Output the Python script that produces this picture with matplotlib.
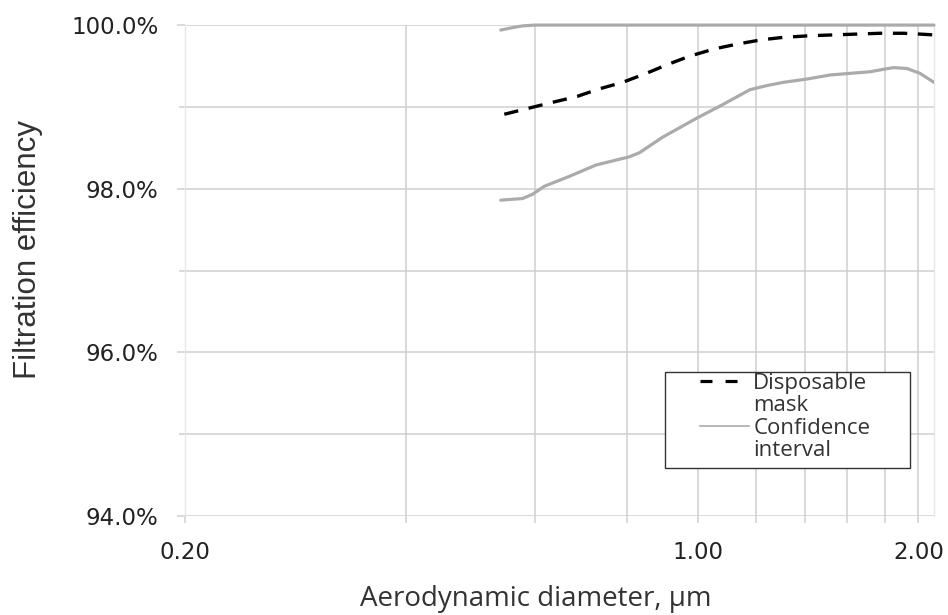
import matplotlib
matplotlib.use("AGG")
from matplotlib import pyplot as plt
from matplotlib.lines import Line2D
from matplotlib.patches import Rectangle
from matplotlib.ticker import FixedLocator, FixedFormatter, PercentFormatter, MultipleLocator

# mean efficiency of the disposable mask (dashed)
mask_x = [0.545, 0.592, 0.637, 0.686, 0.734, 0.790, 0.851, 0.911, 0.975, 1.055,
          1.135, 1.222, 1.308, 1.423, 1.531, 1.648, 1.773, 1.908, 2.01, 2.10]
mask_y = [98.91, 98.99, 99.06, 99.13, 99.22, 99.30, 99.41, 99.52, 99.62, 99.71,
          99.77, 99.82, 99.85, 99.87, 99.88, 99.89, 99.90, 99.90, 99.89, 99.88]

# confidence interval, upper bound
upper_x = [0.539, 0.560, 0.577, 0.600, 0.700, 1.00, 1.50, 2.10]
upper_y = [99.94, 99.97, 99.99, 100.0, 100.0, 100.0, 100.0, 100.0]

# confidence interval, lower bound
lower_x = [0.539, 0.577, 0.595, 0.618, 0.668, 0.727, 0.807, 0.833, 0.896, 0.996,
           1.083, 1.178, 1.242, 1.308, 1.408, 1.515, 1.614, 1.719, 1.793, 1.849,
           1.928, 2.01, 2.10]
lower_y = [97.86, 97.88, 97.93, 98.03, 98.15, 98.29, 98.39, 98.44, 98.63, 98.86,
           99.03, 99.21, 99.26, 99.30, 99.34, 99.39, 99.41, 99.43, 99.46, 99.48,
           99.47, 99.41, 99.30]

x_major = [0.2, 1.0, 2.0]
x_major_labels = ["0.20", "1.00", "2.00"]
x_minor = [0.4, 0.6, 0.8, 1.2, 1.4, 1.6, 1.8]

grid_col = "#cfcfcf"
ci_col = "#ababab"
txt_col = "#222222"

fig = plt.figure(figsize=(9.48, 6.15), dpi=100)
ax = fig.add_axes([0.1951, 0.161, 0.7901, 0.7982])

ax.plot(upper_x, upper_y, color=ci_col, lw=2.3, clip_on=False, zorder=3,
        solid_joinstyle="round", solid_capstyle="round")
ax.plot(lower_x, lower_y, color=ci_col, lw=2.3, zorder=3,
        solid_joinstyle="round", solid_capstyle="round")
ax.plot(mask_x, mask_y, color="black", lw=2.4, dashes=(4.3, 3.2), zorder=4)

ax.set_xscale("log")
ax.set_xlim(0.2, 2.1)
ax.set_ylim(94, 100)

ax.xaxis.set_major_locator(FixedLocator(x_major))
ax.xaxis.set_major_formatter(FixedFormatter(x_major_labels))
ax.xaxis.set_minor_locator(FixedLocator(x_minor))
ax.xaxis.set_minor_formatter(FixedFormatter([""] * len(x_minor)))
ax.yaxis.set_major_locator(MultipleLocator(2))
ax.yaxis.set_minor_locator(MultipleLocator(1))
ax.yaxis.set_major_formatter(PercentFormatter(decimals=1))

ax.grid(True, which="both", color=grid_col, lw=1.1, zorder=0)
ax.set_axisbelow(True)

for s in ["top", "bottom"]:
    ax.spines[s].set_visible(False)
for s in ["left", "right"]:
    ax.spines[s].set_color("#e6e6e6")
    ax.spines[s].set_linewidth(1.0)

ax.tick_params(axis="y", which="major", length=6, width=1.1, color=grid_col,
               pad=13, labelsize=16.5, labelcolor=txt_col)
ax.tick_params(axis="y", which="minor", length=4, width=1.1, color=grid_col)
ax.tick_params(axis="x", which="both", length=5, width=1.1, color=grid_col,
               pad=13, labelsize=16.5, labelcolor=txt_col)

ax.set_ylabel("Filtration efficiency", family="Liberation Sans", fontsize=22.5,
              color="#333333", va="center", rotation_mode="default")
ax.yaxis.set_label_coords(-0.2096, 0.542)
ax.set_xlabel("Aerodynamic diameter, \u00b5m", family="Open Sans", fontsize=20,
              color="#333333", va="center")
ax.xaxis.set_label_coords(0.468, -0.169)

# legend: box drawn separately, entries split over two lines each
ax.add_patch(Rectangle((0.641, 0.0978), 0.327, 0.196, transform=ax.transAxes,
                       facecolor="white", edgecolor="#333333", lw=1.0, zorder=5))
blank = Line2D([], [], linestyle="none")
handles = [Line2D([], [], color="black", lw=2.3, dashes=(3.75, 4.1)), blank,
           Line2D([], [], color=ci_col, lw=1.2), blank]
labels = ["Disposable", "mask", "Confidence", "interval"]
leg = ax.legend(handles, labels, loc="upper left", bbox_to_anchor=(0.6876, 0.291),
                frameon=False, borderpad=0, borderaxespad=0, handlelength=2.2,
                handletextpad=0.2, labelspacing=0.06,
                prop={"family": "Open Sans", "size": 16})
leg.set_zorder(6)
for t in leg.get_texts():
    t.set_color("#333333")

fig.savefig("out.png", dpi=100)
